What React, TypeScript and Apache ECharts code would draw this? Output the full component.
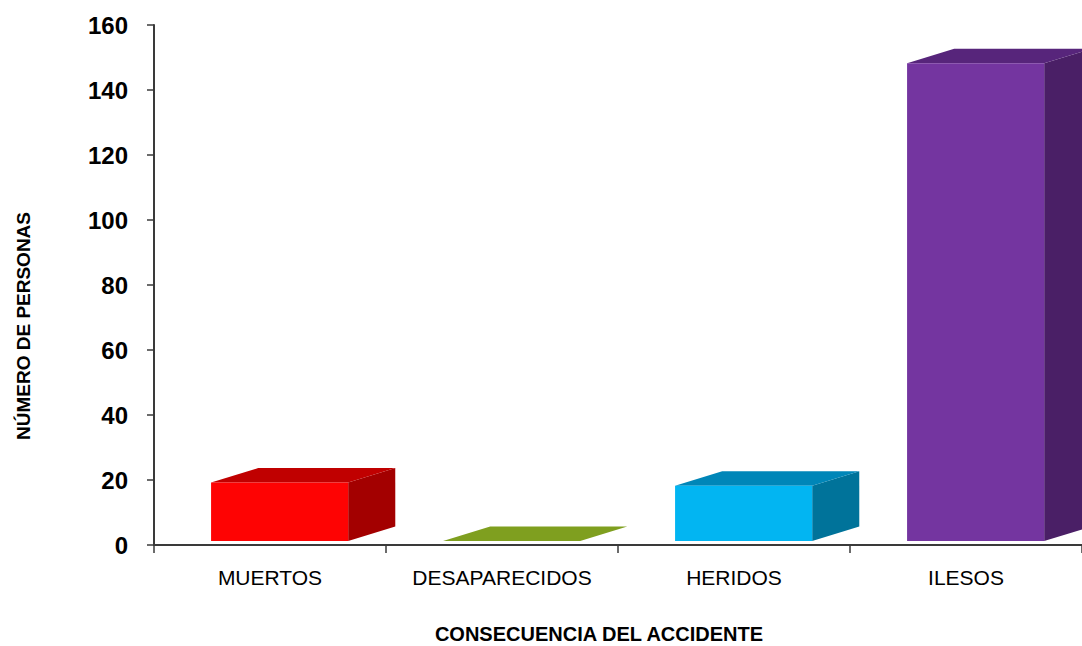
import React, { useEffect, useRef } from "react";
import * as echarts from "echarts";

const categories = ["MUERTOS", "DESAPARECIDOS", "HERIDOS", "ILESOS"];
const values = [18, 0, 17, 147];
const yMin = 0;
const yMax = 160;
const yStep = 20;

const frontColors = ["#fe0303", "#8aab25", "#02b5f2", "#7435a0"];
const topColors = ["#c00000", "#7f9f1f", "#0086b8", "#57257b"];
const sideColors = ["#a30000", "#66801a", "#00739a", "#4a1f66"];

const font = "'Liberation Sans Narrow', 'Arial Narrow', 'Liberation Sans', Arial, sans-serif";

export default function App() {
  const ref = useRef<HTMLDivElement>(null);
  useEffect(() => {
    if (!ref.current) return;
    const chart = echarts.init(ref.current, null, { renderer: "svg" });
    const option: any = {
      animation: false,
      backgroundColor: "#ffffff",
      grid: { left: 154, right: 0, top: 25, bottom: 101, containLabel: false },
      xAxis: {
        type: "category",
        data: categories,
        boundaryGap: true,
        axisLine: { show: true, lineStyle: { color: "#3a3a3a", width: 2 } },
        axisTick: { show: true, length: 8, lineStyle: { color: "#3a3a3a", width: 1.5 } },
        axisLabel: {
          fontFamily: font,
          fontSize: 21,
          color: "#000",
          margin: 22,
          interval: 0,
        },
      },
      yAxis: {
        type: "value",
        min: yMin,
        max: yMax,
        interval: yStep,
        splitLine: { show: false },
        axisLine: { show: true, lineStyle: { color: "#3a3a3a", width: 2 } },
        axisTick: { show: true, length: 7, lineStyle: { color: "#3a3a3a", width: 1.5 } },
        axisLabel: {
          fontFamily: font,
          fontSize: 24,
          fontWeight: "bold",
          color: "#000",
          margin: 26,
        },
      },
      graphic: [
        {
          type: "text",
          x: 599,
          y: 634,
          style: {
            text: "CONSECUENCIA DEL ACCIDENTE",
            fontFamily: font,
            fontSize: 20,
            fontWeight: "bold",
            fill: "#000",
            align: "center",
            verticalAlign: "middle",
          },
        },
        {
          type: "text",
          x: 23,
          y: 326,
          rotation: Math.PI / 2,
          style: {
            text: "NÚMERO DE PERSONAS",
            fontFamily: font,
            fontSize: 19,
            fontWeight: "bold",
            fill: "#000",
            align: "center",
            verticalAlign: "middle",
          },
        },
      ],
      series: [
        {
          type: "custom",
          data: categories.map((_, i) => [i, values[i]]),
          renderItem: (params: any, api: any) => {
            const idx = api.value(0);
            const v = api.value(1);
            const base = api.coord([idx, 0]);
            const top = api.coord([idx, v]);
            const band = api.size([1, 0])[0];
            const h = base[1] - top[1];
            const x0 = base[0] - 0.254 * band;
            const w = 0.591 * band;
            const dx = 0.203 * band;
            const dy = 0.062 * band;
            const yb = base[1] - 4;
            const yt = yb - h;
            const i = params.dataIndex;
            return {
              type: "group",
              children: [
                {
                  type: "polygon",
                  shape: {
                    points: [
                      [x0 + w, yt],
                      [x0 + w + dx, yt - dy],
                      [x0 + w + dx, yb - dy],
                      [x0 + w, yb],
                    ],
                  },
                  style: { fill: sideColors[i] },
                },
                {
                  type: "polygon",
                  shape: {
                    points: [
                      [x0, yt],
                      [x0 + dx, yt - dy],
                      [x0 + w + dx, yt - dy],
                      [x0 + w, yt],
                    ],
                  },
                  style: { fill: topColors[i] },
                },
                {
                  type: "rect",
                  shape: { x: x0, y: yt, width: w, height: h },
                  style: { fill: frontColors[i] },
                },
              ],
            };
          },
        },
      ],
    };
    chart.setOption(option);
    return () => chart.dispose();
  }, []);
  return (
    <div
      ref={ref}
      style={{ position: "fixed", left: 0, top: 0, width: 1082, height: 646, background: "#fff" }}
    />
  );
}
